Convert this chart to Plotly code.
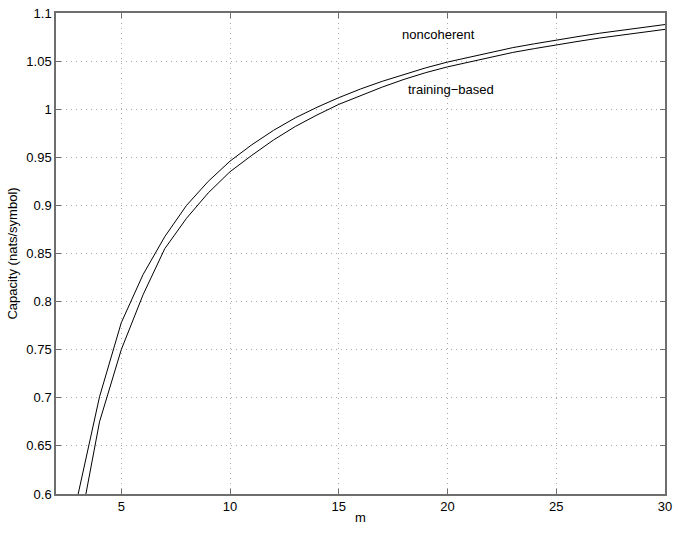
import plotly.graph_objects as go

# dados
m = [3, 4, 5, 6, 7, 8, 9, 10, 11, 12, 13, 14, 15, 16, 17, 18, 19, 20,
     21, 22, 23, 24, 25, 26, 27, 28, 29, 30]
noncoherent = [0.598, 0.701, 0.778, 0.828, 0.8675, 0.900, 0.925, 0.946, 0.963, 0.978,
               0.991, 1.002, 1.012, 1.021, 1.029, 1.036, 1.043, 1.049, 1.054, 1.059,
               1.064, 1.068, 1.072, 1.0755, 1.079, 1.082, 1.085, 1.088]
training = [0.555, 0.675, 0.750, 0.807, 0.855, 0.8866, 0.913, 0.935, 0.952, 0.968,
            0.982, 0.994, 1.005, 1.014, 1.023, 1.031, 1.038, 1.044, 1.049, 1.054,
            1.059, 1.063, 1.067, 1.0705, 1.074, 1.077, 1.080, 1.083]

x_ticks = [5, 10, 15, 20, 25, 30]
y_ticks = [0.6, 0.65, 0.7, 0.75, 0.8, 0.85, 0.9, 0.95, 1.0, 1.05, 1.1]
y_labels = ['0.6', '0.65', '0.7', '0.75', '0.8', '0.85', '0.9', '0.95', '1', '1.05', '1.1']

fig = go.Figure()
fig.add_trace(go.Scatter(x=m, y=noncoherent, mode='lines',
                         line=dict(color='black', width=1), name='noncoherent'))
fig.add_trace(go.Scatter(x=m, y=training, mode='lines',
                         line=dict(color='black', width=1), name='training-based'))

# rótulos de texto
fig.add_annotation(x=17.8, y=1.078, text='noncoherent', showarrow=False,
                   xanchor='left', yanchor='middle', font=dict(size=13, color='black'))
fig.add_annotation(x=18.1, y=1.021, text='training\u2212based', showarrow=False,
                   xanchor='left', yanchor='middle', font=dict(size=13, color='black'))

eixo = dict(
    showline=True, linecolor='#6e6e6e', linewidth=1.5, mirror='ticks',
    ticks='inside', ticklen=5, tickcolor='#6e6e6e',
    showgrid=True, gridcolor='#a8a8a8', griddash='1px,4px', gridwidth=1,
    zeroline=False, automargin=False, tickfont=dict(size=13, color='black'),
)
fig.update_xaxes(range=[2, 30], tickvals=x_ticks, title=dict(text='m', standoff=0,
                 font=dict(size=13, color='black')), **eixo)
fig.update_yaxes(range=[0.6, 1.1], tickvals=y_ticks, ticktext=y_labels,
                 title=dict(text='Capacity (nats/symbol)', standoff=6,
                            font=dict(size=13, color='black')), **eixo)
fig.update_layout(
    width=678, height=533,
    margin=dict(l=56, r=13, t=13, b=39),
    plot_bgcolor='white', paper_bgcolor='white',
    showlegend=False,
    font=dict(family='Liberation Sans, Arial, sans-serif', size=13, color='black'),
)
# tira a margem padrão do body para a figura ocupar a janela inteira
fig.write_html('out.html', config={'displayModeBar': False},
               post_script="document.body.style.margin='0';")
